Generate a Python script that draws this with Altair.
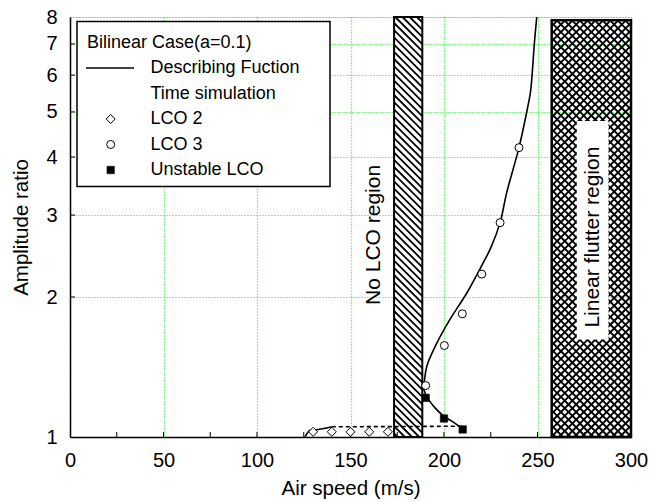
import math
import altair as alt
import pandas as pd

FONT = "Liberation Sans"
W, H = 561, 420
X_MAX = 300
Y_MIN, Y_MAX = 1, 8

# Describing function: LCO 3 (stable) branch continuing into the unstable branch
df_x = [249.6, 248.3, 247.1, 246.2, 243.8, 240.1, 233.5, 230.0, 225.0, 221.0, 212.2,
        203.2, 196.1, 190.8, 189.5, 189.0, 190.2, 195.2, 200.0, 205.0, 209.9]
df_y = [8.00, 7.00, 6.00, 5.50, 4.90, 4.19, 3.35, 2.89, 2.55, 2.37, 2.04,
        1.79, 1.59, 1.42, 1.32, 1.286, 1.234, 1.155, 1.108, 1.076, 1.041]
# Describing function: LCO 2 branch
df2_x = [125.7, 128.4, 132.8, 140.0]
df2_y = [1.000, 1.034, 1.038, 1.052]
# Describing function: dashed branch
dash_x = [140.0, 175.0, 209.5]
dash_y = [1.052, 1.053, 1.055]

# Time simulation
lco2_x = [130, 140, 150, 160, 170]
lco2_y = [1.026, 1.026, 1.026, 1.026, 1.026]
lco3_x = [190.2, 200.2, 209.8, 220.2, 230.0, 240.1]
lco3_y = [1.29, 1.573, 1.84, 2.24, 2.89, 4.19]
unst_x = [190.2, 200.0, 210.0]
unst_y = [1.214, 1.096, 1.038]

# Regions
no_lco_x = [173.3, 188.4]
flutter_x = [257.6, 300.0]
flutter_top = 7.87
flutter_box_x = [271.0, 288.0]
flutter_box_y = [1.62, 4.78]

x_ticks = [0, 50, 100, 150, 200, 250, 300]
x_minor = [25, 50, 75, 100, 125, 150, 175, 200, 225, 250, 275]
y_ticks = [1, 2, 3, 4, 5, 6, 7, 8]
y_minor = [2, 3, 4, 5, 6, 7]

GRID = "#00ff00"
TFS = 20

xscale = alt.Scale(domain=[0, X_MAX], nice=False, zero=False)
yscale = alt.Scale(type="log", domain=[Y_MIN, Y_MAX], nice=False)
xaxis = alt.Axis(title="Air speed (m/s)", values=x_ticks, format="d", grid=True,
                 gridColor=GRID, gridDash=[1, 2], gridWidth=1.2, ticks=False, tickSize=0,
                 labelFontSize=TFS, labelPadding=13, labelColor="black", labelFont=FONT,
                 labelFlush=False, labelOverlap=False,
                 titleFontSize=20.5, titleFontWeight="normal", titleFont=FONT, titleColor="black",
                 titleBaseline="alphabetic", titleY=57,
                 domainColor="black", domainWidth=1.5)
yaxis = alt.Axis(title="Amplitude ratio", values=y_ticks, format="d", grid=True,
                 gridColor=GRID, gridDash=[1, 2], gridWidth=1.2, ticks=False, tickSize=0,
                 labelFontSize=TFS, labelPadding=13, labelColor="black", labelFont=FONT,
                 labelFlush=False, labelOverlap=False,
                 titleFontSize=20.5, titleFontWeight="normal", titleFont=FONT, titleColor="black",
                 titleBaseline="middle", titleX=-49, titleY=H / 2, titleAngle=270,
                 domainColor="black", domainWidth=1.5)


def X(f):
    return alt.X(f"{f}:Q", scale=xscale, axis=xaxis)


def Y(f):
    return alt.Y(f"{f}:Q", scale=yscale, axis=yaxis)


def to_px(x):
    return x / X_MAX * W


def to_py(y):
    return math.log(y / Y_MIN) / math.log(Y_MAX / Y_MIN) * H


def from_px(px):
    return px / W * X_MAX


def from_py(py):
    return Y_MIN * (Y_MAX / Y_MIN) ** (py / H)


def hatch(x0, x1, y0, y1, step, direction):
    a, b, c, d = to_px(x0), to_px(x1), to_py(y0), to_py(y1)
    rows = []
    if direction == "back":
        k = a + c + step / 2
        while k < b + d:
            lo, hi = max(a, k - d), min(b, k - c)
            if hi > lo:
                rows.append((lo, k - lo, hi, k - hi))
            k += step
    else:
        k = c - b + step / 2
        while k < d - a:
            lo, hi = max(a, c - k), min(b, d - k)
            if hi > lo:
                rows.append((lo, lo + k, hi, hi + k))
            k += step
    return pd.DataFrame([{"x": from_px(p0), "y": from_py(q0), "x2": from_px(p1), "y2": from_py(q1)}
                         for p0, q0, p1, q1 in rows])


one = pd.DataFrame({"a": [0]})

# hatch regions
band_rect = alt.Chart(pd.DataFrame({"x": [no_lco_x[0]], "x2": [no_lco_x[1]], "y": [Y_MIN], "y2": [Y_MAX]})).mark_rect(
    fill="white", stroke="black", strokeWidth=2).encode(x=X("x"), x2="x2", y=Y("y"), y2="y2")
band_hatch = alt.Chart(hatch(no_lco_x[0], no_lco_x[1], Y_MIN, Y_MAX, 7.2, "back")).mark_rule(
    color="black", strokeWidth=1.8).encode(x=X("x"), x2="x2", y=Y("y"), y2="y2")

fl_hatch = pd.concat([hatch(flutter_x[0], flutter_x[1], Y_MIN, flutter_top, 7.6, "back"),
                      hatch(flutter_x[0], flutter_x[1], Y_MIN, flutter_top, 7.6, "fwd")])
flutter_lines = alt.Chart(fl_hatch).mark_rule(color="black", strokeWidth=1.9).encode(
    x=X("x"), x2="x2", y=Y("y"), y2="y2")
flutter_border = alt.Chart(pd.DataFrame({"x": [flutter_x[0]], "x2": [flutter_x[1]], "y": [Y_MIN], "y2": [flutter_top]})).mark_rect(
    fill="transparent", stroke="black", strokeWidth=2.5).encode(x=X("x"), x2="x2", y=Y("y"), y2="y2")
flutter_box = alt.Chart(pd.DataFrame({"x": [flutter_box_x[0]], "x2": [flutter_box_x[1]],
                                      "y": [flutter_box_y[0]], "y2": [flutter_box_y[1]]})).mark_rect(
    fill="white").encode(x=X("x"), x2="x2", y=Y("y"), y2="y2")

txt_no = alt.Chart(pd.DataFrame({"x": [162.8], "y": [2.72], "t": ["No LCO region"]})).mark_text(
    angle=270, align="center", baseline="middle", fontSize=21, font=FONT, color="black").encode(
    x=X("x"), y=Y("y"), text="t:N")
txt_fl = alt.Chart(pd.DataFrame({"x": [279.7], "y": [2.69], "t": ["Linear flutter region"]})).mark_text(
    angle=270, align="center", baseline="middle", fontSize=21, font=FONT, color="black").encode(
    x=X("x"), y=Y("y"), text="t:N")

# minor ticks
xt = alt.Chart(pd.DataFrame({"x": x_minor})).mark_rule(color="black", strokeWidth=1).encode(
    x=X("x"), y=alt.value(H), y2=alt.value(H - 5))
yt = alt.Chart(pd.DataFrame({"y": y_minor})).mark_rule(color="black", strokeWidth=1).encode(
    y=Y("y"), x=alt.value(0), x2=alt.value(5))

# curves
upper = alt.Chart(pd.DataFrame({"x": df_x, "y": df_y, "i": list(range(len(df_x)))})).mark_line(
    color="black", strokeWidth=1.6, interpolate="catmull-rom", clip=True).encode(
    x=X("x"), y=Y("y"), order="i:Q")
lower = alt.Chart(pd.DataFrame({"x": df2_x, "y": df2_y})).mark_line(
    color="black", strokeWidth=1.6, interpolate="monotone", clip=True).encode(x=X("x"), y=Y("y"))
dashed = alt.Chart(pd.DataFrame({"x": dash_x, "y": dash_y})).mark_line(
    color="black", strokeWidth=1.6, strokeDash=[4, 3]).encode(x=X("x"), y=Y("y"))

p2 = alt.Chart(pd.DataFrame({"x": lco2_x, "y": lco2_y})).mark_point(
    shape="diamond", size=81, filled=True, fill="white", stroke="black", strokeWidth=1, opacity=1).encode(
    x=X("x"), y=Y("y"))
p3 = alt.Chart(pd.DataFrame({"x": lco3_x, "y": lco3_y})).mark_point(
    shape="circle", size=64, filled=True, fill="white", stroke="black", strokeWidth=1, opacity=1).encode(
    x=X("x"), y=Y("y"))
pu = alt.Chart(pd.DataFrame({"x": unst_x, "y": unst_y})).mark_point(
    shape="square", size=56, filled=True, fill="black", stroke="black", strokeWidth=0.5, opacity=1).encode(
    x=X("x"), y=Y("y"))

# legend (manual)
LFS = 18
leg_box = alt.Chart(one).mark_rect(fill="white", stroke="black", strokeWidth=1.5).encode(
    x=alt.value(7), x2=alt.value(260), y=alt.value(4.5), y2=alt.value(169.5))
leg_items = []
leg_rows = [("Bilinear Case(a=0.1)", 17, 25.5), ("Describing Fuction", 80.5, 51),
            ("Time simulation", 80.5, 76.5), ("LCO 2", 80.5, 102), ("LCO 3", 80.5, 127.5),
            ("Unstable LCO", 80.5, 153)]
for label, lx, ly in leg_rows:
    leg_items.append(alt.Chart(one).mark_text(align="left", baseline="middle", fontSize=LFS, font=FONT,
                                             color="black").encode(
        x=alt.value(lx), y=alt.value(ly), text=alt.value(label)))
leg_line = alt.Chart(one).mark_rule(color="black", strokeWidth=1.6).encode(
    x=alt.value(16), x2=alt.value(64), y=alt.value(51))
leg_d = alt.Chart(one).mark_point(shape="diamond", size=81, filled=True, fill="white", stroke="black",
                                  strokeWidth=1, opacity=1).encode(x=alt.value(40.7), y=alt.value(102))
leg_c = alt.Chart(one).mark_point(shape="circle", size=64, filled=True, fill="white", stroke="black",
                                  strokeWidth=1, opacity=1).encode(x=alt.value(40.7), y=alt.value(127.5))
leg_s = alt.Chart(one).mark_point(shape="square", size=56, filled=True, fill="black", stroke="black",
                                  strokeWidth=0.5, opacity=1).encode(x=alt.value(40.7), y=alt.value(153))

chart = alt.layer(
    flutter_lines, flutter_border, flutter_box, txt_fl,
    band_rect, band_hatch, txt_no,
    xt, yt,
    leg_box, *leg_items, leg_line, leg_d, leg_c, leg_s,
    upper, lower, dashed, p2, p3, pu,
).properties(
    width=W, height=H,
    padding={"left": 70, "top": 17, "right": 18, "bottom": 65},
    autosize="none",
).configure_view(stroke="black", strokeWidth=1.5).configure(font=FONT, background="white")

chart.save("out.html", embed_options={"renderer": "svg", "actions": False})
